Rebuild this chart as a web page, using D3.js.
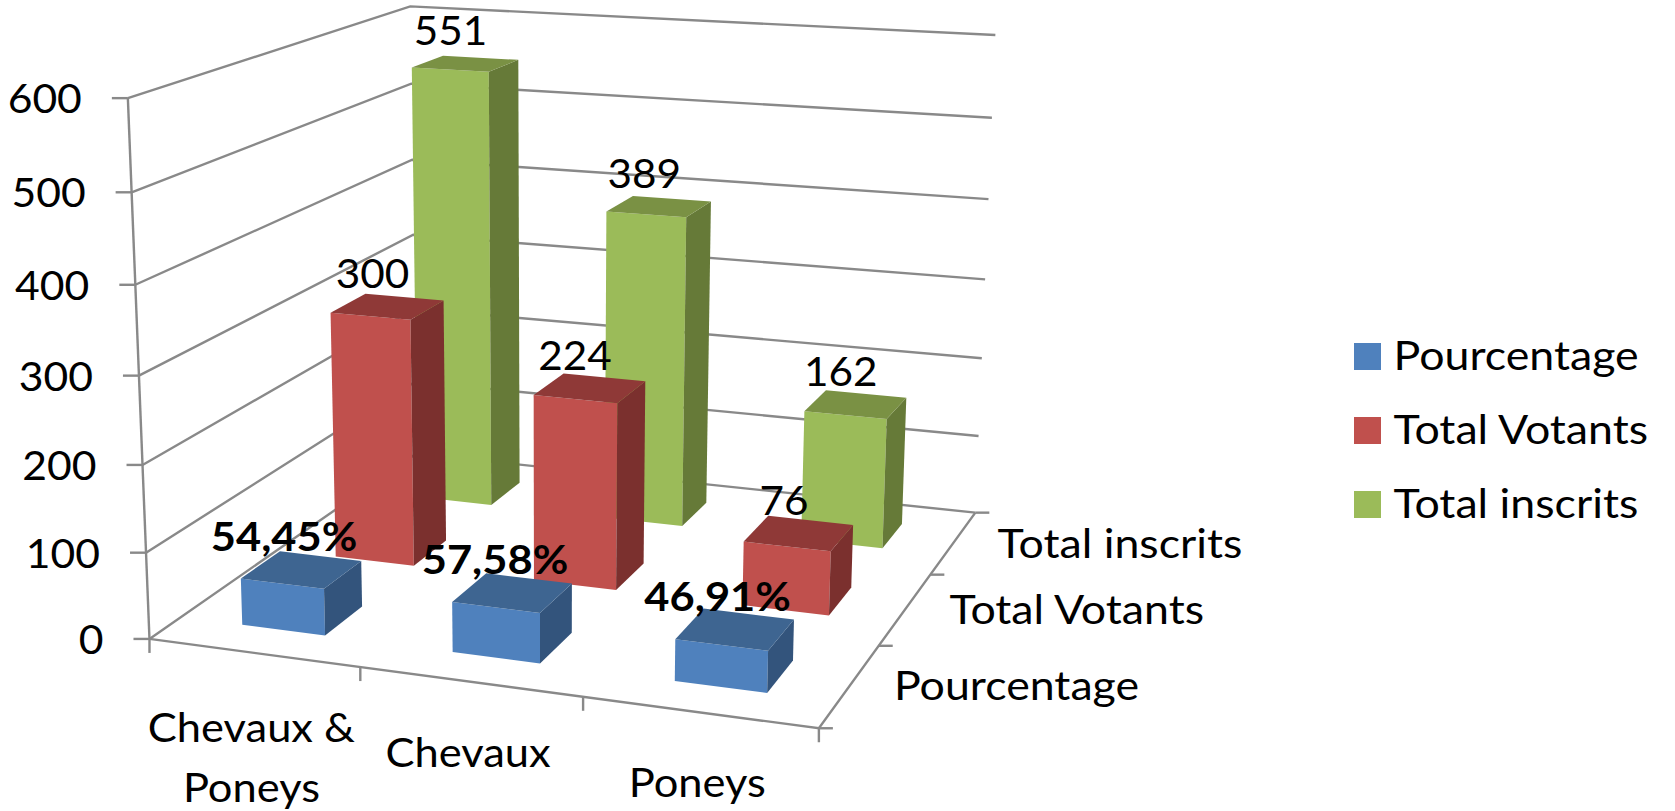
<!DOCTYPE html>
<html><head><meta charset="utf-8">
<style>html,body{margin:0;padding:0;background:#fff}svg{display:block}text{font-family:Lato,"Noto Sans",sans-serif;fill:#000}</style>
<script src="https://cdn.jsdelivr.net/npm/d3@7"></script>
</head><body><svg id="c" width="1675" height="811"></svg>
<script>
const categories = ["Chevaux & Poneys","Chevaux","Poneys"];
const seriesNames = ["Pourcentage","Total Votants","Total inscrits"];
const pourcentage = [54.45,57.58,46.91];
const pourcentageLabels = ["54,45%","57,58%","46,91%"];
const totalVotants = [300,224,76];
const totalInscrits = [551,389,162];
const seriesValues = [pourcentage,totalVotants,totalInscrits];
const yTicks = [0,100,200,300,400,500,600];
const faceFront = ["#4F81BD","#C0504D","#9BBB59"];
const faceTop = ["#3E6591","#8F3937","#7A9144"];
const faceSide = ["#33547C","#7B302E","#667A38"];

// Camera calibration: known box anchors [u,v,h] -> screen, solved as a projective matrix
const anchors = [
 [0,0,0,150,639],[0,0,1/6,146.4,552],[0,0,2/6,143,464],[0,0,3/6,138.6,376],[0,0,4/6,135,285],[0,0,5/6,132,192],[0,0,1,128,98],
 [0,1,0,416,453],[0,1,1/6,415,382],[0,1,2/6,414,311],[0,1,3/6,413,234],[0,1,4/6,412,160],[0,1,5/6,412,83],[0,1,1,410,6],
 [1,1,0,975,512],[1,1,1/6,978,436],[1,1,2/6,982,358.5],[1,1,3/6,985,280],[1,1,4/6,988.7,199.5],[1,1,5/6,992,118],[1,1,1,995,35],
 [1,0,0,818,728],[1/3,0,0,360,668],[2/3,0,0,582,698],[1,1/3,0,879,646],[1,2/3,0,932.5,573]
];
function solveCamera(pts){
  const n=11,A=d3.range(n).map(()=>new Array(n+1).fill(0));
  const add=(r,b)=>{for(let i=0;i<n;i++){for(let j=0;j<n;j++)A[i][j]+=r[i]*r[j];A[i][n]+=r[i]*b;}};
  pts.forEach(([X,Y,Z,x0,y0])=>{const x=x0/1000,y=y0/1000;
    add([X,Y,Z,1,0,0,0,0,-x*X,-x*Y,-x*Z],x);
    add([0,0,0,0,X,Y,Z,1,-y*X,-y*Y,-y*Z],y);});
  for(let c=0;c<n;c++){let p=c;for(let r=c+1;r<n;r++)if(Math.abs(A[r][c])>Math.abs(A[p][c]))p=r;
    [A[c],A[p]]=[A[p],A[c]];
    for(let r=0;r<n;r++){if(r===c)continue;const f=A[r][c]/A[c][c];for(let k=c;k<=n;k++)A[r][k]-=f*A[c][k];}}
  return A.map((r,i)=>r[n]/r[i]);
}
const m=solveCamera(anchors);
const uScale=d3.scaleLinear().domain([0,categories.length]).range([0,1]);
const vScale=d3.scaleLinear().domain([0,seriesNames.length]).range([0,1]);
const yScale=d3.scaleLinear().domain([0,600]).range([0,1]);
const band=d3.scaleBand().domain(d3.range(3)).range([0,3]).paddingInner(0.6).paddingOuter(0.3);
function P(cat,ser,val){
  const X=uScale(cat),Y=vScale(ser),Z=yScale(val);
  const w=m[8]*X+m[9]*Y+m[10]*Z+1;
  return [1000*(m[0]*X+m[1]*Y+m[2]*Z+m[3])/w,1000*(m[4]*X+m[5]*Y+m[6]*Z+m[7])/w];
}
// horizontal stretch of a label without changing its height
function stretch(sel,k){
  sel.each(function(){
    this.setAttribute("textLength",this.getComputedTextLength()*k);
    this.setAttribute("lengthAdjust","spacingAndGlyphs");
  });
  return sel;
}
const svg=d3.select("#c");
svg.append("rect").attr("width",1675).attr("height",811).attr("fill","#fff");
const GRID="#898989";
const line=d3.line();
const gGrid=svg.append("g").attr("fill","none").attr("stroke",GRID).attr("stroke-width",2.4);
const nC=categories.length,nS=seriesNames.length;
// wall gridlines and value-axis ticks
gGrid.selectAll("path.g").data(yTicks).join("path").attr("class","g")
  .attr("d",t=>line([P(0,0,t),P(0,nS,t),P(nC,nS,t)]));
gGrid.selectAll("path.t").data(yTicks).join("path").attr("class","t")
  .attr("d",t=>{const p=P(0,0,t);return line([p,[p[0]-16,p[1]]]);});
gGrid.append("path").attr("d",line([P(0,0,0),P(0,0,600)]));
// floor edges and ticks
gGrid.append("path").attr("d",line([P(0,0,0),P(nC,0,0),P(nC,nS,0)]));
gGrid.selectAll("path.cx").data(d3.range(nC+1)).join("path").attr("class","cx")
  .attr("d",i=>{const p=P(i,0,0);return line([p,[p[0],p[1]+14]]);});
gGrid.selectAll("path.sx").data(d3.range(nS+1)).join("path").attr("class","sx")
  .attr("d",j=>{const p=P(nC,j,0);return line([p,[p[0]+14,p[1]]]);});
// bars back to front
const gBars=svg.append("g");
const barData=[];
d3.range(nS-1,-1,-1).forEach(s=>categories.forEach((c,i)=>barData.push({s,i,v:seriesValues[s][i]})));
const poly=pts=>"M"+pts.map(p=>p.join(",")).join("L")+"Z";
barData.forEach(d=>{
  const u0=band(d.i),u1=u0+band.bandwidth(),v0=band(d.s),v1=v0+band.bandwidth();
  gBars.append("path").attr("fill",faceFront[d.s]).attr("d",poly([P(u0,v0,0),P(u1,v0,0),P(u1,v0,d.v),P(u0,v0,d.v)]));
  gBars.append("path").attr("fill",faceSide[d.s]).attr("d",poly([P(u1,v0,0),P(u1,v1,0),P(u1,v1,d.v),P(u1,v0,d.v)]));
  gBars.append("path").attr("fill",faceTop[d.s]).attr("d",poly([P(u0,v0,d.v),P(u1,v0,d.v),P(u1,v1,d.v),P(u0,v1,d.v)]));
});
// value labels
const FS=41;
barData.forEach(d=>{
  const u0=band(d.i),u1=u0+band.bandwidth(),v0=band(d.s),v1=v0+band.bandwidth();
  const a=P(u0,v0,d.v),b=P(u1,v1,d.v);
  const t=svg.append("text").attr("x",(a[0]+b[0])/2-(d.s===0?17:14.5)).attr("y",(a[1]+b[1])/2-18.5)
    .attr("text-anchor","middle").attr("font-size",FS).attr("font-weight",d.s===0?700:400)
    .text(d.s===0?pourcentageLabels[d.i]:d.v);
  stretch(t,d.s===0?1.06:1.03);
});
// value-axis labels
yTicks.forEach(v=>{
  const p=P(0,0,v);
  stretch(svg.append("text").attr("class","y").attr("x",p[0]-46).attr("y",p[1]+15)
    .attr("text-anchor","end").attr("font-size",FS).text(v),1.04);
});
// category labels
const catLines=[["Chevaux &","Poneys"],["Chevaux"],["Poneys"]];
catLines.forEach((ls,i)=>{
  const p=P(i+0.5,0,0);
  ls.forEach((l,k)=>stretch(svg.append("text").attr("x",p[0]-2).attr("y",p[1]+(ls.length>1?89:85)+k*60)
    .attr("text-anchor","middle").attr("font-size",FS).text(l),1.06));
});
// series-axis labels
seriesNames.forEach((n,j)=>{
  const p=P(nC,j+0.5,0);
  stretch(svg.append("text").attr("x",p[0]+44).attr("y",p[1]+15).attr("font-size",FS).text(n),1.09);
});
// legend
const legY=d3.scalePoint().domain(seriesNames).range([343,491]);
seriesNames.forEach((n,j)=>{
  svg.append("rect").attr("x",1354).attr("y",legY(n)).attr("width",27).attr("height",27).attr("fill",faceFront[j]);
  stretch(svg.append("text").attr("x",1393.5).attr("y",legY(n)+27).attr("font-size",FS).text(n),1.09);
});
</script></body></html>
